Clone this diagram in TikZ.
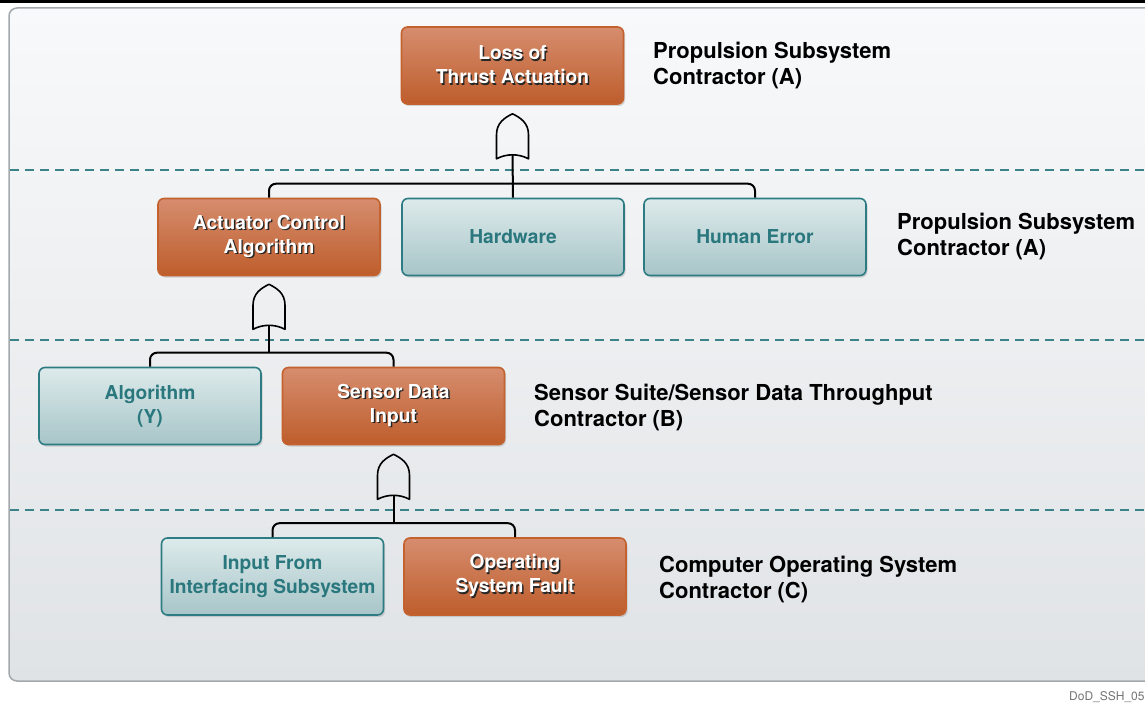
\documentclass[tikz,border=0pt]{standalone}
\usepackage{fontspec}
\setmainfont{TeX Gyre Heros}
\usepackage{tikz}
\usetikzlibrary{calc,shadows}

\definecolor{rustTop}{HTML}{D68D6E}
\definecolor{rustBot}{HTML}{BE5D2C}
\definecolor{rustEdge}{HTML}{C4622F}
\definecolor{tealTop}{HTML}{DDEAEB}
\definecolor{tealBot}{HTML}{A7C5C8}
\definecolor{tealEdge}{HTML}{2D7C83}
\definecolor{tealText}{HTML}{2A787E}
\definecolor{dashTeal}{HTML}{3B8289}
\definecolor{panelTop}{HTML}{F8F9FA}
\definecolor{panelBot}{HTML}{E0E3E6}
\definecolor{panelEdge}{HTML}{A3A8AC}

% white label with a dark drop shadow
\newcommand{\shtxt}[1]{\rlap{\raisebox{-1.4pt}{\kern1.4pt\textcolor{black!85}{#1}}}#1}

\tikzset{
  event/.style={rounded corners=6pt, minimum width=222pt, minimum height=77pt,
    inner sep=2pt, align=center, font=\fontsize{19.2}{24}\selectfont\bfseries,
    line width=1.6pt, drop shadow={opacity=0.3, shadow xshift=1.5pt, shadow yshift=-2pt}},
  rustbox/.style={event, draw=rustEdge, top color=rustTop, bottom color=rustBot, text=white},
  tealbox/.style={event, draw=tealEdge, top color=tealTop, bottom color=tealBot, text=tealText},
  tier/.style={anchor=west, align=left, inner sep=0pt, font=\fontsize{22}{26}\selectfont\bfseries},
  wire/.style={line width=2pt, rounded corners=7pt},
  split/.style={dashTeal, line width=2pt, dash pattern=on 9pt off 6pt},
  orgate/.pic={
    \draw[line width=1.6pt, line join=round] (-16,4) -- (-16,-20)
      .. controls (-16,-32) and (-8,-37) .. (0,-41)
      .. controls (8,-37) and (16,-32) .. (16,-20) -- (16,4)
      .. controls (6,-1.3) and (-6,-1.3) .. cycle;
  }
}

\begin{document}
\begin{tikzpicture}[x=1pt,y=-1pt]
\useasboundingbox (0,0) rectangle (1145,703);
% frame
\fill[black] (0,0) rectangle (1145,3);
\draw[panelEdge, line width=1.5pt, rounded corners=8pt, top color=panelTop, bottom color=panelBot]
  (9,8) rectangle (1170,681);
\node[anchor=west, inner sep=0pt, text=black!55, font=\fontsize{12}{14}\selectfont] (tag) at (1069,697) {DoD\_SSH\_05};
% tier separators
\foreach \y in {170,340,510}{
  \draw[split] (10,\y) -- (1145,\y);
}

% events
\node[rustbox] (loss) at (512.5,65.5) {\shtxt{Loss of}\\\shtxt{Thrust Actuation}};
\node[rustbox] (aca) at (269,237) {\shtxt{Actuator Control}\\\shtxt{Algorithm}};
\node[tealbox] (hw) at (513,237) {Hardware};
\node[tealbox] (human) at (755,237) {Human Error};
\node[tealbox] (alg) at (150,406) {Algorithm\\(Y)};
\node[rustbox] (sdi) at (393.5,406) {\shtxt{Sensor Data}\\\shtxt{Input}};
\node[tealbox] (ifs) at (272.5,576.5) {Input From\\Interfacing Subsystem};
\node[rustbox] (osf) at (515,576.5) {\shtxt{Operating}\\\shtxt{System Fault}};

% tier labels
\node[tier] (tierA) at (653,66) {Propulsion Subsystem\\Contractor (A)};
\node[tier] (tierA2) at (897,237) {Propulsion Subsystem\\Contractor (A)};
\node[tier] (tierB) at (534,408) {Sensor Suite/Sensor Data Throughput\\Contractor (B)};
\node[tier] (tierC) at (659,579) {Computer Operating System\\Contractor (C)};

% gates and wires
\coordinate (g1) at ($(loss.south)+(0,50)$);
\coordinate (g2) at ($(aca.south)+(0,49)$);
\coordinate (g3) at ($(sdi.south)+(0,50)$);
\coordinate (j1) at ($(g1|-hw.north)+(0,-14)$);
\coordinate (j2) at ($(g2|-alg.north)+(0,-14)$);
\coordinate (j3) at ($(g3|-ifs.north)+(0,-14)$);

\draw[wire] (aca.north) |- (j1) -| (human.north);
\draw[wire] (g1) -- (hw.north);
\draw[wire] (alg.north) |- (j2) -| (sdi.north);
\draw[wire] (g2) -- (j2);
\draw[wire] (ifs.north) |- (j3) -| (osf.north);
\draw[wire] (g3) -- (j3);

\foreach \g in {g1,g2,g3}{
  \pic at (\g) {orgate};
}
\end{tikzpicture}
\end{document}
